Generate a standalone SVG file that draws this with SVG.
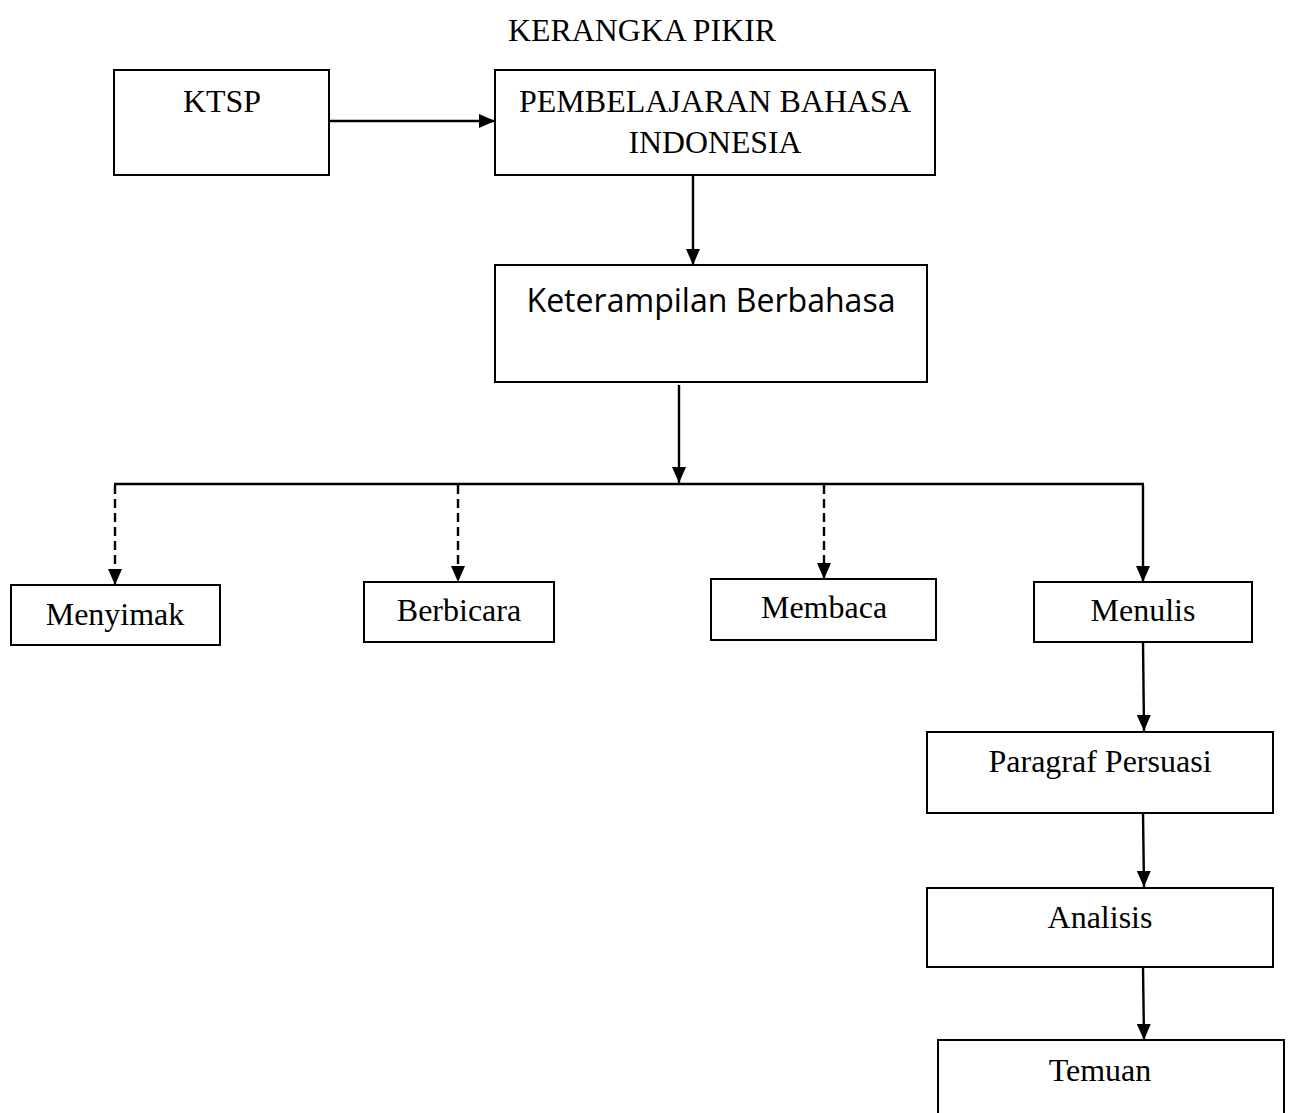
<svg xmlns="http://www.w3.org/2000/svg" width="1290" height="1113" viewBox="0 0 1290 1113">
<defs>
<marker id="ah" markerWidth="16" markerHeight="14" refX="16" refY="7" orient="auto" markerUnits="userSpaceOnUse">
<path d="M0,0 L16,7 L0,14 Z" fill="#000"/>
</marker>
<style>
.box{fill:#fff;stroke:#000;stroke-width:2}
.t{font-family:"Liberation Serif","Times New Roman",serif;font-size:32px;fill:#000;text-anchor:middle}
.s{font-family:"Open Sans","Noto Sans",sans-serif;font-size:33px;fill:#000;text-anchor:middle}
.c{stroke:#000;stroke-width:2.4;fill:none}
.a{marker-end:url(#ah)}
.d{stroke-dasharray:9,5}
</style>
</defs>
<rect width="1290" height="1113" fill="#fff"/>
<text class="t" x="642" y="41" textLength="268" lengthAdjust="spacingAndGlyphs">KERANGKA PIKIR</text>
<g id="connectors">
<line class="c a" x1="329" y1="121" x2="495" y2="121"/>
<line class="c a" x1="693" y1="175" x2="693" y2="265"/>
<line class="c a" x1="679" y1="385" x2="679" y2="483"/>
<line class="c" x1="114" y1="484" x2="1144" y2="484"/>
<line class="c a d" x1="115" y1="485" x2="115" y2="585"/>
<line class="c a d" x1="458" y1="485" x2="458" y2="582"/>
<line class="c a d" x1="824" y1="485" x2="824" y2="579"/>
<line class="c a" x1="1143" y1="485" x2="1143" y2="582"/>
<line class="c a" x1="1143" y1="642" x2="1144" y2="731"/>
<line class="c a" x1="1143" y1="813" x2="1144" y2="887"/>
<line class="c a" x1="1143" y1="967" x2="1144" y2="1040"/>
</g>
<g id="ktsp"><rect class="box" x="114" y="70" width="215" height="105"/><text class="t" x="222" y="112" textLength="78" lengthAdjust="spacingAndGlyphs">KTSP</text></g>
<g id="pembelajaran"><rect class="box" x="495" y="70" width="440" height="105"/><text class="t" x="715" y="112" textLength="392" lengthAdjust="spacingAndGlyphs">PEMBELAJARAN BAHASA</text><text class="t" x="715" y="153" textLength="173" lengthAdjust="spacingAndGlyphs">INDONESIA</text></g>
<g id="keterampilan"><rect class="box" x="495" y="265" width="432" height="117"/><text class="s" x="711" y="312" textLength="369" lengthAdjust="spacingAndGlyphs">Keterampilan Berbahasa</text></g>
<g id="menyimak"><rect class="box" x="11" y="585" width="209" height="60"/><text class="t" x="115" y="625">Menyimak</text></g>
<g id="berbicara"><rect class="box" x="364" y="582" width="190" height="60"/><text class="t" x="459" y="621">Berbicara</text></g>
<g id="membaca"><rect class="box" x="711" y="579" width="225" height="61"/><text class="t" x="824" y="618">Membaca</text></g>
<g id="menulis"><rect class="box" x="1034" y="582" width="218" height="60"/><text class="t" x="1143" y="621">Menulis</text></g>
<g id="paragraf"><rect class="box" x="927" y="732" width="346" height="81"/><text class="t" x="1100" y="772">Paragraf Persuasi</text></g>
<g id="analisis"><rect class="box" x="927" y="888" width="346" height="79"/><text class="t" x="1100" y="928">Analisis</text></g>
<g id="temuan"><rect class="box" x="938" y="1040" width="346" height="90"/><text class="t" x="1100" y="1081">Temuan</text></g>
</svg>
